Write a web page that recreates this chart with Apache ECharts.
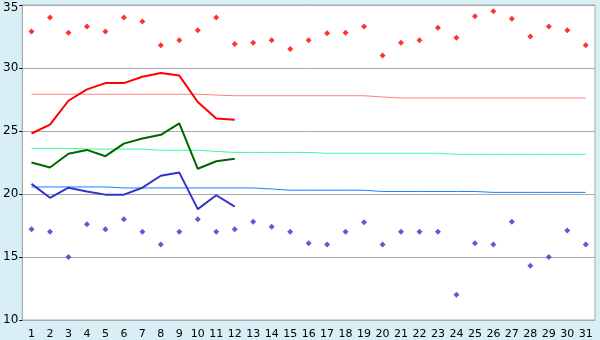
<!DOCTYPE html>
<html>
<head>
<meta charset="utf-8">
<script src="https://cdn.jsdelivr.net/npm/echarts@6/dist/echarts.min.js"></script>
<style>
html,body{margin:0;padding:0;background:#d9eff6;}
#c{width:600px;height:340px;}
</style>
</head>
<body>
<div id="c"></div>
<script>
const days = ['1','2','3','4','5','6','7','8','9','10','11','12','13','14','15','16','17','18','19','20','21','22','23','24','25','26','27','28','29','30','31'];
const yTicks = [10, 15, 20, 25, 30, 35];
const recordHigh = [32.9,34.0,32.8,33.3,32.9,34.0,33.7,31.8,32.2,33.0,34.0,31.9,32.0,32.2,31.5,32.2,32.75,32.8,33.3,31.0,32.0,32.2,33.2,32.4,34.1,34.5,33.9,32.5,33.3,33.0,31.8];
const recordLow = [17.2,17.0,15.0,17.6,17.2,18.0,17.0,16.0,17.0,18.0,17.0,17.2,17.8,17.4,17.0,16.1,16.0,17.0,17.75,16.0,17.0,17.0,17.0,12.0,16.1,16.0,17.8,14.3,15.0,17.1,16.0];
const maxTemp = [24.8,25.5,27.4,28.3,28.8,28.8,29.3,29.6,29.4,27.3,26.0,25.9];
const avgTemp = [22.5,22.1,23.2,23.5,23.0,24.0,24.4,24.7,25.6,22.0,22.6,22.8];
const minTemp = [20.8,19.7,20.5,20.2,19.95,19.95,20.5,21.45,21.7,18.8,19.9,19.0];
const normalMax = [27.92,27.92,27.92,27.92,27.92,27.92,27.92,27.92,27.92,27.92,27.85,27.8,27.8,27.8,27.8,27.8,27.8,27.8,27.8,27.7,27.62,27.62,27.62,27.62,27.62,27.62,27.62,27.62,27.62,27.62,27.62];
const normalAvg = [23.62,23.62,23.62,23.57,23.57,23.57,23.57,23.47,23.47,23.47,23.38,23.3,23.3,23.3,23.3,23.3,23.23,23.23,23.23,23.23,23.23,23.23,23.23,23.15,23.15,23.15,23.15,23.15,23.15,23.15,23.15];
const normalMin = [20.56,20.56,20.56,20.56,20.56,20.48,20.48,20.48,20.48,20.48,20.48,20.48,20.48,20.4,20.3,20.3,20.3,20.3,20.3,20.2,20.2,20.2,20.2,20.2,20.2,20.13,20.13,20.13,20.13,20.13,20.13];

const chart = echarts.init(document.getElementById('c'), null, {renderer:'canvas'});
const lineS = (data, color, w, z) => ({
  type:'line', data, symbol:'none', smooth:false, z,
  lineStyle:{color, width:w}, itemStyle:{color}, animation:false
});
const topTick = yTicks[yTicks.length-1];
chart.setOption({
  animation:false,
  backgroundColor:'#d9eff6',
  grid:{left:20, right:5, top:5, bottom:20, show:true, backgroundColor:'#ffffff', borderColor:'#aaaaaa', borderWidth:1},
  xAxis:{
    type:'category', data:days, boundaryGap:true,
    axisLine:{lineStyle:{color:'#aaaaaa'}},
    axisTick:{alignWithLabel:true, length:5, lineStyle:{color:'#000000'}},
    axisLabel:{color:'#000', fontFamily:'DejaVu Sans', fontSize:11, margin:9, interval:0}
  },
  yAxis:{
    type:'value', min:yTicks[0], max:topTick, interval:5,
    axisLine:{show:true, lineStyle:{color:'#aaaaaa'}},
    axisTick:{show:true, length:3, lineStyle:{color:'#000000'}},
    axisLabel:{color:'#000', fontFamily:'DejaVu Sans', fontSize:12, margin:4,
      formatter: v => v === topTick ? '{t|' + v + '}' : String(v),
      rich:{t:{fontFamily:'DejaVu Sans', fontSize:12, color:'#000', padding:[6,0,0,0]}}
    },
    splitLine:{lineStyle:{color:'#aaaaaa'}}
  },
  series:[
    lineS(normalMax, '#ff8080', 1, 2),
    lineS(normalAvg, '#33ff99', 1, 2),
    lineS(normalMin, '#1a80ff', 1, 2),
    lineS(maxTemp, '#ff0000', 2, 3),
    lineS(avgTemp, '#006600', 2, 3),
    lineS(minTemp, '#3333cc', 2, 3),
    {type:'scatter', data:recordHigh, symbol:'diamond', symbolSize:6, itemStyle:{color:'#ff0000'}, z:4},
    {type:'scatter', data:recordLow, symbol:'diamond', symbolSize:6, itemStyle:{color:'#3333cc'}, z:4}
  ]
});
</script>
</body>
</html>
